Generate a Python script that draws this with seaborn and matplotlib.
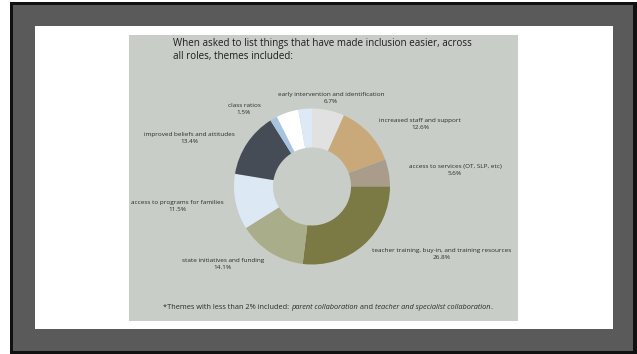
import matplotlib
matplotlib.use("Agg")
import matplotlib.pyplot as plt
from matplotlib.patches import Rectangle
import seaborn as sns

sns.set_style("white")
plt.rcParams['font.family'] = ['Open Sans', 'DejaVu Sans']

# ---- data ----
categories = [
    "early intervention and identification",
    "increased staff and support",
    "access to services (OT, SLP, etc)",
    "teacher training, buy-in, and training resources",
    "state initiatives and funding",
    "access to programs for families",
    "improved beliefs and attitudes",
    "class ratios",
    "other 1",
    "other 2",
]
values = [6.7, 12.6, 5.6, 26.8, 14.1, 11.5, 13.4, 1.5, 4.6, 2.8]
show_label = [True, True, True, True, True, True, True, True, False, False]
slice_colors = ["#e1e1e1", "#c9a97a", "#a99c8b", "#7b7a44", "#a9ad89",
                "#dce8f4", "#464c55", "#a6c3e0", "#ffffff", "#dde9f7"]
title_text = "When asked to list things that have made inclusion easier, across\nall roles, themes included:"
foot_parts = [("*Themes with less than 2% included: ", "normal"),
              ("parent collaboration", "italic"),
              (" and ", "normal"),
              ("teacher and specialist collaboration", "italic"),
              (".", "normal")]

# label centres in image pixels
label_pos = [(331, 98), (420, 124), (455, 170), (442, 254), (223, 264),
             (177, 206), (189, 138), (244, 109), None, None]

W, H = 637, 354
fig = plt.figure(figsize=(W / 100, H / 100), dpi=100)
fig.patch.set_facecolor("white")

def rect(x0, y0, x1, y1, color):
    fig.patches.append(Rectangle((x0 / W, 1 - y1 / H), (x1 - x0) / W, (y1 - y0) / H,
                                 transform=fig.transFigure, facecolor=color,
                                 edgecolor="none", zorder=-5))

rect(10, 2, 637, 354, "#111111")
rect(13, 5, 633, 351, "#5a5a5a")
rect(35, 26, 613, 329, "#ffffff")
rect(129, 35, 518, 321, "#c9cdc8")

cx, cy, r = 312, 186.5, 78
ax = fig.add_axes([(cx - r) / W, 1 - (cy + r) / H, 2 * r / W, 2 * r / H])
ax.set_zorder(2)
ax.pie(values, colors=sns.color_palette(slice_colors), startangle=90,
       counterclock=False, radius=1.0,
       wedgeprops=dict(width=0.5, linewidth=0))
ax.set_xlim(-1, 1)
ax.set_ylim(-1, 1)
ax.set_aspect("equal")
ax.set_axis_off()

txt_color = "#2b2b2b"
fig.text(173 / W, 1 - 38 / H, title_text, ha="left", va="top",
         fontsize=7.1, color="#1e1e1e", linespacing=1.3)

for cat, v, show, pos in zip(categories, values, show_label, label_pos):
    if not show:
        continue
    x, y = pos
    fig.text(x / W, 1 - y / H, f"{cat}\n{v}%", ha="center", va="center",
             fontsize=4.6, color=txt_color, linespacing=1.45)

# footnote with mixed styles, chained
x0 = 163
fs_foot = 5.3
prev = fig.text(x0 / W, 1 - 309 / H, foot_parts[0][0], ha="left", va="baseline",
                fontsize=fs_foot, color=txt_color, style=foot_parts[0][1])
for s, st in foot_parts[1:]:
    prev = ax.annotate(s, xy=(1, 0), xycoords=prev, ha="left", va="bottom",
                       fontsize=fs_foot, color=txt_color, style=st,
                       annotation_clip=False)
fig.savefig("out.png", dpi=100)
